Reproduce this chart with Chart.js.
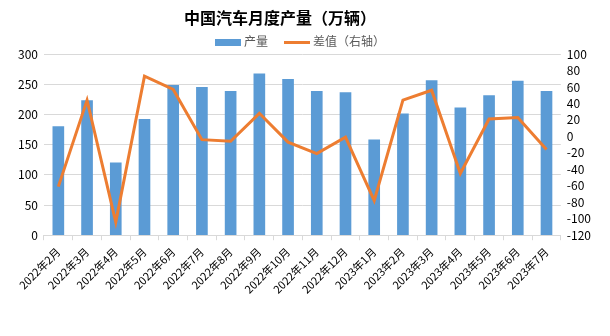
<!DOCTYPE html>
<html>
<head>
<meta charset="utf-8">
<script src="https://cdn.jsdelivr.net/npm/chart.js@4/dist/chart.umd.min.js"></script>
<style>
  body { margin: 0; background: #fff; }
  #wrap { position: relative; width: 610px; height: 336px; }
  #title {
    position: absolute; top: 5px; left: 0; width: 560px; text-align: center;
    font: bold 16px "Noto Sans CJK SC", sans-serif; color: #000;
  }
  #legend {
    position: absolute; top: 32px; left: 0; width: 600px; text-align: center;
    font: 12px "Noto Sans CJK SC", sans-serif; color: #595959;
  }
  #legend span.item { display: inline-block; margin: 0 8px; }
  #legend i { display: inline-block; vertical-align: middle; margin-right: 3px; }
  canvas { position: absolute; left: 0; top: 0; }
</style>
</head>
<body>
<div id="wrap">
  <canvas id="myChart" width="610" height="336"></canvas>
  <div id="title">中国汽车月度产量（万辆）</div>
  <div id="legend"></div>
</div>
<script>
const months = ['2022年2月', '2022年3月', '2022年4月', '2022年5月', '2022年6月', '2022年7月',
	'2022年8月', '2022年9月', '2022年10月', '2022年11月', '2022年12月', '2023年1月',
	'2023年2月', '2023年3月', '2023年4月', '2023年5月', '2023年6月', '2023年7月']
const output = [180, 223, 120, 192, 248, 245, 238, 267, 258, 238, 236, 158, 201, 256, 211, 231, 255, 238]
const diff = [-61, 44, -104, 73, 57, -4, -6, 28, -7, -21, -1, -78, 44, 56, -45, 21, 23, -16]

const blue = '#5b9bd5'
const orange = '#ed7d31'
const gridColor = '#d9d9d9'
const tickFont = { family: '"Noto Sans CJK SC", sans-serif', size: 12 }

// legend drawn as html so it can sit off-centre like the title
const legend = document.getElementById('legend')
legend.innerHTML =
	'<span class="item"><i style="width:26px;height:7px;background:' + blue + '"></i>产量</span>' +
	'<span class="item"><i style="width:26px;height:3px;background:' + orange + '"></i>差值（右轴）</span>'

const context = document.getElementById('myChart')
const config = {
	data: {
		labels: months,
		datasets: [
			{
				type: 'line',
				label: '差值（右轴）',
				data: diff,
				yAxisID: 'y1',
				borderColor: orange,
				backgroundColor: orange,
				borderWidth: 3,
				pointRadius: 0,
				tension: 0
			},
			{
				type: 'bar',
				label: '产量',
				data: output,
				yAxisID: 'y',
				backgroundColor: blue,
				barThickness: 11
			}
		]
	},
	options: {
		responsive: false,
		animation: false,
		layout: { padding: { top: 54, left: 12, right: 13, bottom: 35 } },
		plugins: { legend: { display: false }, title: { display: false }, tooltip: { enabled: false } },
		scales: {
			x: {
				grid: { display: true, drawOnChartArea: false, drawTicks: true, tickLength: 5, color: gridColor, offset: true },
				border: { color: gridColor },
				ticks: { color: '#000', font: { family: tickFont.family, size: 11 }, maxRotation: 45, minRotation: 45, padding: 5 }
			},
			y: {
				position: 'left',
				min: 0, max: 300,
				ticks: { stepSize: 50, color: '#000', font: tickFont, padding: 6 },
				grid: { color: gridColor, drawTicks: false },
				border: { display: false }
			},
			y1: {
				position: 'right',
				min: -120, max: 100,
				ticks: { stepSize: 20, autoSkip: false, color: '#000', font: tickFont, padding: 6 },
				grid: { drawOnChartArea: false, drawTicks: false },
				border: { display: false }
			}
		}
	}
}
const myChart = new Chart(context, config)
</script>
</body>
</html>
